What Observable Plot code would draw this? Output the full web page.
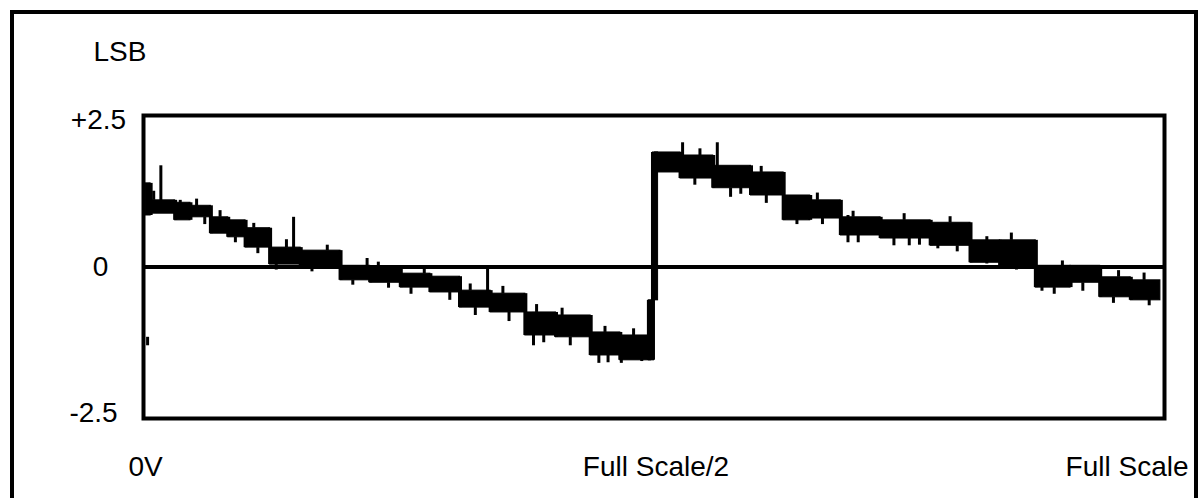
<!DOCTYPE html>
<html>
<head>
<meta charset="utf-8">
<script src="https://cdn.jsdelivr.net/npm/d3@7"></script>
<script src="https://cdn.jsdelivr.net/npm/@observablehq/plot@0.6"></script>
<style>
  html, body { margin: 0; padding: 0; background: #fff; overflow: hidden; }
  #wrap { position: relative; width: 1204px; height: 498px; overflow: hidden; }
  #border { position: absolute; left: 10px; top: 10px; width: 1180px; height: 600px;
            border: 4px solid #000; box-sizing: content-box; pointer-events: none; }
  svg { font-family: "Liberation Sans", Arial, Helvetica, sans-serif; }
</style>
</head>
<body>
<div id="wrap"><div id="border"></div></div>
<script>
// Trace band segments: start/end (fraction of full scale), top/bottom (LSB)
const segStart = [0.002,0.007,0.031,0.046,0.066,0.083,0.100,0.124,0.154,0.193,0.222,0.252,0.281,0.310,0.340,0.374,0.404,0.438,0.467,0.495,0.499,0.501,0.526,0.558,0.595,0.627,0.653,0.683,0.722,0.771,0.810,0.839,0.874,0.908,0.937,0.967];
const segEnd   = [0.007,0.031,0.046,0.066,0.083,0.100,0.124,0.154,0.193,0.222,0.252,0.281,0.310,0.340,0.374,0.404,0.438,0.467,0.497,0.500,0.504,0.526,0.558,0.595,0.627,0.653,0.683,0.722,0.771,0.810,0.839,0.874,0.908,0.937,0.967,0.996];
const segTop   = [1.38,1.10,1.06,1.01,0.82,0.77,0.64,0.32,0.27,0.02,-0.01,-0.11,-0.16,-0.39,-0.44,-0.75,-0.80,-1.08,-1.13,-0.55,1.89,1.89,1.84,1.67,1.56,1.18,1.10,0.82,0.77,0.73,0.44,0.44,0.02,0.02,-0.17,-0.22];
const segBot   = [0.85,0.88,0.77,0.82,0.55,0.49,0.32,0.04,0.00,-0.22,-0.26,-0.34,-0.42,-0.67,-0.75,-1.13,-1.16,-1.46,-1.54,-1.54,-0.55,1.56,1.46,1.30,1.18,0.77,0.80,0.52,0.47,0.35,0.07,0.00,-0.34,-0.26,-0.50,-0.55];

// Noise spikes: position, top, bottom (LSB)
const spikeX   = [0.004,0.017,0.036,0.052,0.147,0.219,0.337,0.382,0.446,0.468,0.488,0.528,0.562,0.585,0.640,0.690,0.750,0.778,0.826,0.880,0.985,
                  0.060,0.090,0.112,0.130,0.165,0.205,0.240,0.262,0.300,0.325,0.358,0.392,0.418,0.455,0.540,0.575,0.610,0.665,0.700,0.735,0.760,0.797,0.855,0.892,0.920,0.950,
                  0.010,0.075,0.108,0.140,0.180,0.230,0.275,0.320,0.352,0.385,0.410,0.452,0.480,0.545,0.605,0.660,0.695,0.745,0.790,0.850,0.900,0.955,0.980];
const spikeTop = [-1.16,1.67,1.10,1.12,0.82,0.14,-0.02,-0.75,-1.30,-1.30,-1.30,2.05,2.05,1.50,1.05,0.85,0.75,0.72,0.50,0.00,-0.30,
                  0.82,0.49,0.32,0.04,0.00,-0.22,-0.26,-0.34,-0.42,-0.67,-0.75,-1.13,-1.16,-1.46,1.46,1.30,1.18,0.80,0.52,0.47,0.47,0.35,0.00,-0.34,-0.26,-0.50,
                  1.25,0.93,0.72,0.45,0.36,0.08,0.00,-0.28,-0.32,-0.62,-0.68,-0.98,-1.02,1.95,1.66,1.22,0.92,0.88,0.83,0.56,0.10,-0.06,-0.10];
const spikeBot = [-1.30,1.01,0.95,0.95,0.11,-0.06,-0.47,-1.30,-1.59,-1.59,-1.56,1.70,1.50,1.20,0.70,0.40,0.35,0.30,0.05,-0.40,-0.64,
                  0.70,0.40,0.22,-0.05,-0.08,-0.30,-0.35,-0.45,-0.55,-0.80,-0.90,-1.25,-1.30,-1.58,1.35,1.15,1.05,0.70,0.40,0.35,0.36,0.25,-0.05,-0.45,-0.40,-0.60,
                  1.10,0.82,0.64,0.32,0.27,-0.01,-0.11,-0.39,-0.44,-0.75,-0.80,-1.08,-1.13,1.84,1.56,1.10,0.82,0.77,0.73,0.44,0.02,-0.17,-0.22];

const yTicks = [2.5, 0, -2.5];
const yTickLabels = ["+2.5", "0", "-2.5"];
const xTicks = [0, 0.5, 1];
const xTickLabels = ["0V", "Full Scale/2", "Full Scale"];
const yUnit = "LSB";

const segs = segStart.map((s, i) => ({x1: s, x2: segEnd[i], y1: segBot[i], y2: segTop[i]}));
const spikes = spikeX.map((x, i) => ({x, y1: spikeBot[i], y2: spikeTop[i]}));
// vertical joins between consecutive band segments
const joins = segStart.slice(1).map((s, k) => ({
  x: s,
  y1: Math.min(segBot[k], segBot[k + 1]),
  y2: Math.max(segTop[k], segTop[k + 1])
}));

const fs = 28;
const yDx = [-45, -43, -50];
const yDy = [5, 0, -5];

const marks = [
  Plot.rect(segs, {x1: "x1", x2: "x2", y1: "y1", y2: "y2", fill: "#000", stroke: "#000", strokeWidth: 1}),
  Plot.ruleX(joins, {x: "x", y1: "y1", y2: "y2", stroke: "#000", strokeWidth: 4}),
  Plot.ruleX(spikes, {x: "x", y1: "y1", y2: "y2", stroke: "#000", strokeWidth: 3}),
  Plot.ruleY([0], {stroke: "#000", strokeWidth: 4}),
  Plot.frame({stroke: "#000", strokeWidth: 4}),
  Plot.text([yUnit], {frameAnchor: "top-left", lineAnchor: "middle", text: d => d, textAnchor: "start", dx: -50, dy: -63, fontSize: fs, fill: "#000"}),
  ...yTicks.map((t, i) => Plot.text([t], {y: d => d, text: () => yTickLabels[i], frameAnchor: "left", lineAnchor: "middle", textAnchor: "middle", dx: yDx[i], dy: yDy[i], fontSize: fs, fill: "#000"})),
  Plot.text(xTicks.slice(0, 2), {x: d => d, text: (d, i) => xTickLabels[i], frameAnchor: "bottom", lineAnchor: "middle", textAnchor: "middle", dx: 2, dy: 49, fontSize: fs, fill: "#000"}),
  Plot.text([xTicks[2]], {x: d => d, text: () => xTickLabels[2], frameAnchor: "bottom", lineAnchor: "middle", textAnchor: "end", dx: 24, dy: 49, fontSize: fs, fill: "#000"})
];

const chart = Plot.plot({
  width: 1204,
  height: 498,
  marginLeft: 143,
  marginRight: 40,
  marginTop: 115,
  marginBottom: 80,
  x: {domain: [0, 1], axis: null},
  y: {domain: [-2.5, 2.5], axis: null},
  style: {background: "transparent", fontFamily: "'Liberation Sans', Arial, Helvetica, sans-serif"},
  marks
});
document.getElementById("wrap").prepend(chart);
</script>
</body>
</html>
